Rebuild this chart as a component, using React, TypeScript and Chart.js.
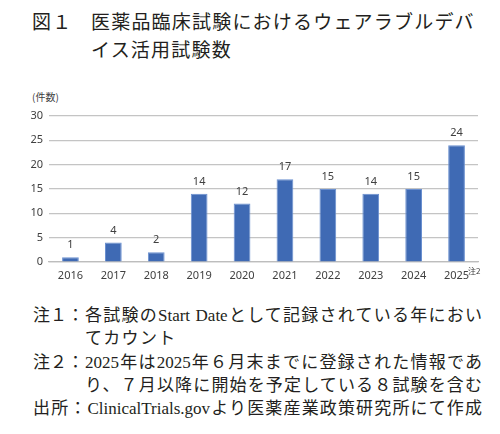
import React, { useEffect, useRef } from "react";
import { Chart, registerables } from "chart.js";

Chart.register(...registerables);

const years = ["2016", "2017", "2018", "2019", "2020", "2021", "2022", "2023", "2024", "2025"];
const counts = [1, 4, 2, 14, 12, 17, 15, 14, 15, 24];
const yMin = 0;
const yMax = 30;
const yStep = 5;

const titleLine1 = "医薬品臨床試験におけるウェアラブルデバ";
const titleLine2 = "イス活用試験数";
const unitLabel = "(件数)";
const footnoteMark = "注2";

const serif = '"Liberation Serif", "DejaVu Serif", "Noto Sans CJK JP", serif';
const sans = '"Noto Sans CJK JP", "Noto Sans", sans-serif';

const valueLabels = {
  id: "valueLabels",
  afterDatasetsDraw(chart: any) {
    const ctx = chart.ctx;
    const meta = chart.getDatasetMeta(0);
    const data = chart.data.datasets[0].data;
    ctx.save();
    ctx.font = '11px "Noto Sans", "Open Sans", sans-serif';
    ctx.fillStyle = "#404040";
    ctx.textAlign = "center";
    ctx.textBaseline = "middle";
    meta.data.forEach((el: any, i: number) => {
      ctx.fillText(String(data[i]), el.x, el.y - 12);
    });
    ctx.restore();
  },
};

function BarChart() {
  const ref = useRef<HTMLCanvasElement | null>(null);
  useEffect(() => {
    if (!ref.current) return;
    const chart = new Chart(ref.current, {
      type: "bar",
      data: {
        labels: years,
        datasets: [
          {
            data: counts,
            backgroundColor: "#3f6ab4",
            borderColor: "#6b90d0",
            borderWidth: 1,
            barPercentage: 0.39,
            categoryPercentage: 1,
          },
        ],
      },
      options: {
        responsive: false,
        animation: false,
        devicePixelRatio: 1,
        layout: { padding: { top: 26, right: 22, left: 0, bottom: 0 } },
        plugins: { legend: { display: false }, tooltip: { enabled: false } },
        scales: {
          x: {
            grid: { display: false, drawTicks: false },
            border: { display: true, color: "#bdbdbd", width: 1.2 },
            ticks: {
              color: "#404040",
              font: { family: '"Noto Sans", "Open Sans", sans-serif', size: 11 },
              padding: 7,
              maxRotation: 0,
            },
            afterFit(scale: any) {
              scale.height = 28;
            },
          },
          y: {
            min: yMin,
            max: yMax,
            ticks: {
              stepSize: yStep,
              color: "#404040",
              font: { family: '"Noto Sans", "Open Sans", sans-serif', size: 11 },
              padding: 6,
            },
            grid: { color: "#c4c4c4", lineWidth: 1.2, drawTicks: false },
            border: { display: false },
            afterFit(scale: any) {
              scale.width = 49;
            },
          },
        },
      },
      plugins: [valueLabels],
    });
    return () => chart.destroy();
  }, []);
  return (
    <canvas
      ref={ref}
      width={500}
      height={200}
      style={{ position: "absolute", left: 0, top: 90, width: 500, height: 200 }}
    />
  );
}

const justifyLine = (left: number, top: number, width: number, size: number): React.CSSProperties => ({
  position: "absolute",
  left,
  top,
  width,
  fontSize: size,
  lineHeight: `${size + 6}px`,
  textAlign: "justify",
  textAlignLast: "justify" as any,
  whiteSpace: "nowrap",
  fontFamily: serif,
  color: "#231f20",
});

export default function App() {
  return (
    <div
      style={{
        position: "fixed",
        left: 0,
        top: 0,
        width: 500,
        height: 434,
        background: "#fff",
        overflow: "hidden",
      }}
    >
      <div
        style={{
          position: "absolute",
          left: 32,
          top: 8,
          fontSize: 19,
          lineHeight: "26px",
          fontFamily: sans,
          color: "#231f20",
          letterSpacing: 1.2,
        }}
      >
        図１
      </div>
      <div
        style={{
          position: "absolute",
          left: 91,
          top: 8,
          fontSize: 19,
          lineHeight: "26px",
          fontFamily: sans,
          color: "#231f20",
          letterSpacing: 1.2,
          whiteSpace: "nowrap",
        }}
      >
        {titleLine1}
      </div>
      <div
        style={{
          position: "absolute",
          left: 91,
          top: 36,
          fontSize: 19,
          lineHeight: "26px",
          fontFamily: sans,
          color: "#231f20",
          letterSpacing: 1.2,
          whiteSpace: "nowrap",
        }}
      >
        {titleLine2}
      </div>
      <div
        style={{
          position: "absolute",
          left: 32,
          top: 89,
          fontSize: 10,
          lineHeight: "16px",
          fontFamily: sans,
          color: "#404040",
        }}
      >
        {unitLabel}
      </div>
      <BarChart />
      <div
        style={{
          position: "absolute",
          left: 468,
          top: 266,
          fontSize: 8,
          lineHeight: "10px",
          fontFamily: sans,
          color: "#404040",
        }}
      >
        {footnoteMark}
      </div>

      <div style={justifyLine(33, 304, 51, 17)}>注１：</div>
      <div style={justifyLine(85, 304, 397, 17)}>各試験のStart Dateとして記録されている年におい</div>
      <div style={{ ...justifyLine(85, 327, 100, 17), textAlign: "left", textAlignLast: "left" as any, letterSpacing: 1.3 }}>
        てカウント
      </div>
      <div style={justifyLine(33, 351, 51, 17)}>注２：</div>
      <div style={justifyLine(85, 351, 397, 17)}>2025年は2025年６月末までに登録された情報であ</div>
      <div style={justifyLine(85, 374, 397, 17)}>り、７月以降に開始を予定している８試験を含む</div>
      <div style={justifyLine(33, 397, 449, 17)}>出所：ClinicalTrials.govより医薬産業政策研究所にて作成</div>
    </div>
  );
}
